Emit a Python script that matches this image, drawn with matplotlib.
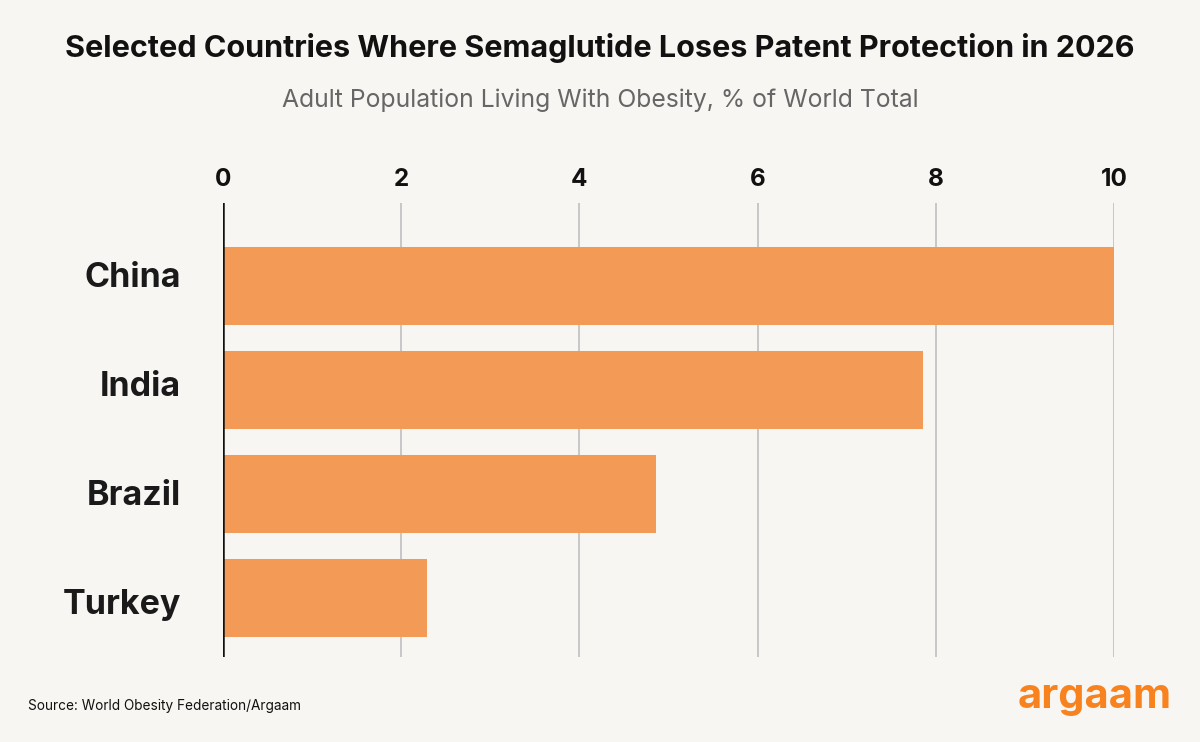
#!/usr/bin/env python3
"""
Semaglutide patent expiry chart
- Horizontal bars: share of world adults living with obesity
- Saves out.png
"""

import matplotlib.pyplot as plt

# Data
COUNTRIES = ["China", "India", "Brazil", "Turkey"]
SHARE_PCT = [10.0, 7.86, 4.86, 2.29]
X_TICKS = [0, 2, 4, 6, 8, 10]

TITLE = "Selected Countries Where Semaglutide Loses Patent Protection in 2026"
SUBTITLE = "Adult Population Living With Obesity, % of World Total"
SOURCE = "Source: World Obesity Federation/Argaam"

BG = "#f8f6f3"
BAR = "#f29a56"
FONT = ["Inter", "DejaVu Sans"]

plt.rcParams["font.family"] = FONT

fig = plt.figure(figsize=(12, 7.42), dpi=100, facecolor=BG)
ax = fig.add_axes([223 / 1200, 1 - 657 / 742, (1114 - 223) / 1200, (657 - 203) / 742])
ax.set_facecolor(BG)

ypos = list(range(len(COUNTRIES)))
ax.barh(ypos, SHARE_PCT, height=0.75, color=BAR, zorder=3)

ax.set_xlim(0, 10)
ax.set_ylim(3.57, -0.8)
ax.set_xticks(X_TICKS)
ax.set_xticklabels([str(t) for t in X_TICKS], fontsize=17.5, fontweight="bold", color="#111111")
ax.xaxis.tick_top()
ax.tick_params(axis="x", length=0, pad=9)
ax.set_yticks([])

ax.grid(axis="x", color="#c4c4c4", linewidth=1.3, zorder=0)
for s in ax.spines.values():
    s.set_visible(False)
ax.axvline(0, color="#111111", linewidth=1.8, zorder=4)

# Country names sit on a slightly wider spacing than the bars in the original
lab = ax.twinx()
lab.set_ylim(3.505, -0.66)
lab.yaxis.tick_left()
lab.set_yticks(ypos)
lab.set_yticklabels(COUNTRIES, fontsize=24.5, fontweight="bold", color="#1a1a1a")
lab.tick_params(axis="y", length=0, pad=30)
for s in lab.spines.values():
    s.set_visible(False)

# Headings and footer
fig.text(0.5, 1 - 48 / 742, TITLE, ha="center", va="center",
         fontsize=22, fontweight="bold", color="#111111")
fig.text(0.5, 1 - 100 / 742, SUBTITLE, ha="center", va="center",
         fontsize=17.8, color="#666666")
fig.text(28 / 1200, 1 - 706 / 742, SOURCE, ha="left", va="center",
         fontsize=9.8, color="#111111")
fig.text(1172 / 1200, 1 - 697 / 742, "argaam", ha="right", va="center",
         fontsize=30, fontweight="bold", color="#f7821e")

fig.savefig("out.png", dpi=100, facecolor=BG)
